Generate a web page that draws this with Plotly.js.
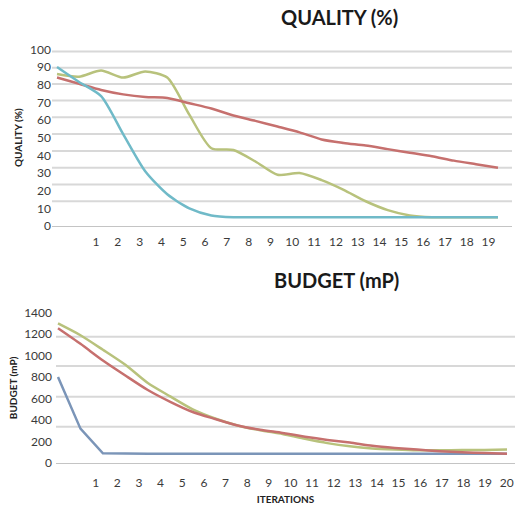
<!DOCTYPE html>
<html>
<head>
<meta charset="utf-8">
<script src="https://cdn.plot.ly/plotly-3.0.1.min.js"></script>
<style>html,body{margin:0;padding:0;background:#fff;}#chart{width:516px;height:505px;}</style>
</head>
<body>
<div id="chart"></div>
<script>
// ---- data ----
const iterations = [0,1,2,3,4,5,6,7,8,9,10,11,12,13,14,15,16,17,18,19,20];
const qualityTickLabels = [1,2,3,4,5,6,7,8,9,10,11,12,13,14,15,16,17,18,19];
const budgetTickLabels = [1,2,3,4,5,6,7,8,9,10,11,12,13,14,15,16,17,18,19,20];

const qualityAqua  = [90, 81.5, 73.5, 52, 31, 18, 10, 6, 5, 5, 5, 5, 5, 5, 5, 5, 5, 5, 5, 5, 5];
const qualityRed   = [84, 80.5, 77, 74.5, 73, 72.5, 69.5, 66.5, 62.5, 59.5, 56.3, 53, 49, 47, 45.5, 43.5, 41.5, 39.5, 37, 35, 33];
const qualityGreen = [86, 84.5, 88, 84, 87.5, 84, 63, 44, 43, 36.5, 29, 30, 26, 20.5, 14, 9, 6, 5, 5, 5, 5];

const budgetBlue  = [800, 320, 90, 85, 85, 85, 85, 85, 85, 85, 85, 85, 85, 85, 85, 85, 85, 85, 85, 85, 85];
const budgetRed   = [1255, 1110, 955, 815, 680, 570, 475, 410, 350, 310, 280, 245, 215, 190, 160, 140, 125, 110, 100, 92, 85];
const budgetGreen = [1300, 1190, 1055, 915, 745, 620, 500, 415, 350, 305, 270, 225, 185, 155, 135, 125, 118, 118, 120, 122, 125];

const qualityYTicks = [0,10,20,30,40,50,60,70,80,90,100];
const budgetYTicks = [0,200,400,600,800,1000,1200,1400];
const qualityGrid = [14, 23.5, 33, 42.5, 52, 61.5, 71, 80.3, 89.5, 98.7];
const budgetGrid = [338, 618, 903, 1176];

// ---- styles ----
const W = 516, H = 505;
const C = {aqua:'#70bac8', red:'#c6706e', green:'#b8c27c', blue:'#7b95b8'};
const FONT = 'Lato, "Open Sans", sans-serif';
const tickFont = {family: FONT, size: 12, color: '#3a3a3a'};
const spline = (c) => ({color: c, width: 2.5, shape: 'spline', smoothing: 0.7});
const straight = (c) => ({color: c, width: 2.5, shape: 'linear'});

const traces = [
  {x: iterations, y: qualityGreen, xaxis:'x', yaxis:'y', mode:'lines', line: spline(C.green), name:'Q green'},
  {x: iterations, y: qualityRed,   xaxis:'x', yaxis:'y', mode:'lines', line: spline(C.red),   name:'Q red'},
  {x: iterations, y: qualityAqua,  xaxis:'x', yaxis:'y', mode:'lines', line: spline(C.aqua),  name:'Q aqua'},
  {x: iterations, y: budgetBlue,   xaxis:'x2', yaxis:'y2', mode:'lines', line: straight(C.blue),  name:'B blue'},
  {x: iterations, y: budgetGreen,  xaxis:'x2', yaxis:'y2', mode:'lines', line: spline(C.green), name:'B green'},
  {x: iterations, y: budgetRed,    xaxis:'x2', yaxis:'y2', mode:'lines', line: spline(C.red),   name:'B red'}
];

const gridShapes = [];
qualityGrid.forEach(v => gridShapes.push({type:'line', layer:'below', xref:'x domain', yref:'y', x0:0, x1:1, y0:v, y1:v, line:{color:'#d8d8d8', width:2}}));
budgetGrid.forEach(v => gridShapes.push({type:'line', layer:'below', xref:'x2 domain', yref:'y2', x0:0, x1:1, y0:v, y1:v, line:{color:'#d8d8d8', width:2}}));

const layout = {
  width: W, height: H,
  margin: {l:0, r:0, t:0, b:0},
  paper_bgcolor: '#ffffff', plot_bgcolor: '#ffffff',
  showlegend: false,
  font: {family: FONT, color: '#333'},
  xaxis: {
    domain: [52/W, 512/W], range: [-0.227, 20.635], anchor: 'y',
    tickmode: 'array', tickvals: qualityTickLabels.map(k => 0.78 + 0.989*k), ticktext: qualityTickLabels.map(String),
    showgrid: false, zeroline: false, showline: true, linecolor: '#c4c4c4', linewidth: 1,
    ticks: '', tickfont: tickFont, ticklabelstandoff: 5, fixedrange: true
  },
  yaxis: {
    domain: [1 - 226/H, 1 - 49.3/H], range: [0, 100], anchor: 'x',
    tickmode: 'array', tickvals: qualityYTicks,
    showgrid: false, zeroline: false, showline: false, ticks: '', tickfont: tickFont, ticklabelstandoff: 0,
    title: {text: 'QUALITY (%)', font: {family: FONT, size: 10, color: '#222', weight: 'bold'}, standoff: 5},
    fixedrange: true
  },
  xaxis2: {
    domain: [56/W, 515/W], range: [-0.089, 20.356], anchor: 'y2',
    tickmode: 'array', tickvals: budgetTickLabels.map(k => 0.716 + 0.9635*k), ticktext: budgetTickLabels.map(String),
    showgrid: false, zeroline: false, showline: true, linecolor: '#c4c4c4', linewidth: 1,
    ticks: '', tickfont: tickFont, ticklabelstandoff: 9,
    title: {text: 'ITERATIONS', font: {family: FONT, size: 10, color: '#222', weight: 'bold'}, standoff: 6},
    fixedrange: true
  },
  yaxis2: {
    domain: [1 - 463/H, 1 - 312.7/H], range: [0, 1400], anchor: 'x2',
    tickmode: 'array', tickvals: budgetYTicks,
    showgrid: false, zeroline: false, showline: false, ticks: '', tickfont: tickFont, ticklabelstandoff: 3,
    title: {text: 'BUDGET (mP)', font: {family: FONT, size: 10, color: '#222', weight: 'bold'}, standoff: 4},
    fixedrange: true
  },
  shapes: gridShapes,
  annotations: [
    {text: '<b>QUALITY (%)</b>', xref:'paper', yref:'paper', x: 339/W, y: 1 - 17/H, xanchor:'center', yanchor:'middle', showarrow:false, font:{family: FONT, size: 20, color:'#1a1a1a'}},
    {text: '<b>BUDGET (mP)</b>', xref:'paper', yref:'paper', x: 336/W, y: 1 - 280/H, xanchor:'center', yanchor:'middle', showarrow:false, font:{family: FONT, size: 20, color:'#1a1a1a'}}
  ]
};

Plotly.newPlot('chart', traces, layout, {staticPlot: true, displayModeBar: false});
</script>
</body>
</html>
